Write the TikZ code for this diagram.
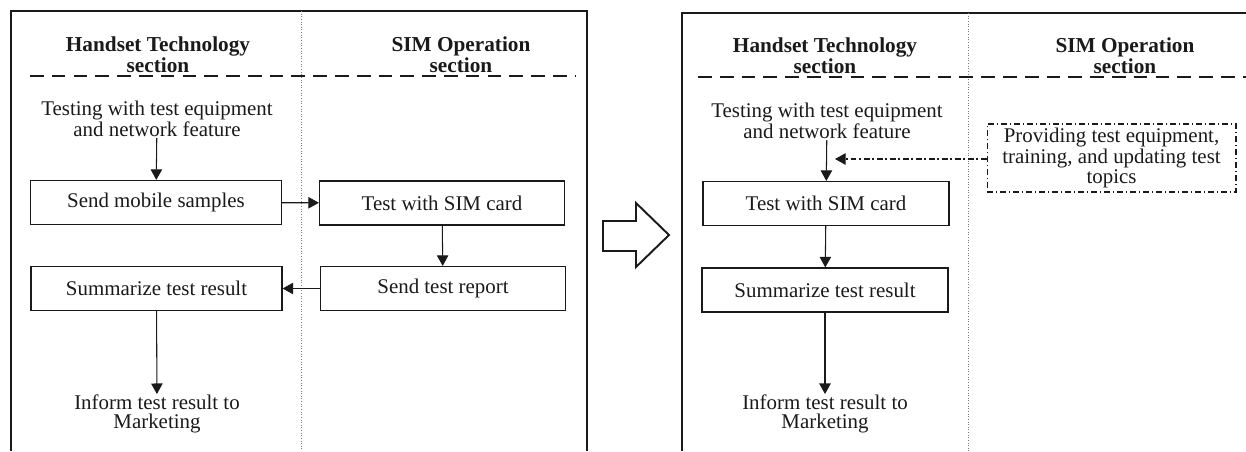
\documentclass[tikz,border=0pt]{standalone}
\usepackage{fontspec}
\setmainfont{Liberation Serif}
\usetikzlibrary{arrows.meta}
\definecolor{Ink}{HTML}{1A1A1A}
\definecolor{Rule}{HTML}{7A7A7A}

\begin{document}
\begin{tikzpicture}[x=0.02cm,y=-0.02cm,font=\fontsize{11.9}{10.4}\selectfont,every node/.style={text=Ink},
  frame/.style={draw=Ink,line width=1.3pt},
  divider/.style={draw=Rule,densely dotted,line width=0.5pt},
  sepline/.style={draw=Ink,line width=1.6pt,dash pattern=on 7.8pt off 4.6pt},
  procbox/.style={draw=Ink,line width=0.7pt,minimum width=5.02cm,minimum height=0.88cm,inner sep=1pt},
  simbox/.style={procbox,minimum width=4.9cm},
  supportbox/.style={draw=Ink,line width=0.6pt,dash pattern=on 3.4pt off 1.6pt on 0.8pt off 1.6pt,minimum width=4.98cm,minimum height=1.36cm,align=center,inner sep=1pt},
  header/.style={font=\fontsize{12.1}{10}\selectfont\bfseries,align=center},
  plain/.style={align=center,inner sep=0.5pt},
  flow/.style={draw=Ink,line width=0.6pt,-{Triangle[length=6pt,width=6.5pt]}},
  hint/.style={flow,dash pattern=on 3.4pt off 1.6pt on 0.8pt off 1.6pt}]
\useasboundingbox (0,0) rectangle (1246,451);
\fill[white] (0,0) rectangle (1246,451);
% current way of working
\draw[frame] (11,451) |- (587,11) -- (587,451);
\draw[divider] (301,11) -- (301,451);
\node[header] (hdhand) at (158,55) {Handset Technology\\section};
\node[header] (hdsim) at (461,55) {SIM Operation\\section};
\draw[sepline] (30,76) -- (576,76);
\node[plain] (testing) at (157,119) {Testing with test equipment\\and network feature};
\node[procbox] (sendmob) at (156,202.5) {Send mobile samples};
\node[simbox] (simtest) at (442,203) {Test with SIM card};
\node[simbox] (report) at (443,288.5) {Send test report};
\node[procbox] (summ) at (156.5,288.5) {Summarize test result};
\node[plain] (inform) at (157,414) {Inform test result to\\Marketing};
\draw[flow] (testing) -- (sendmob);
\draw[flow] (sendmob) -- (simtest);
\draw[flow] (simtest) -- (report);
\draw[flow] (report) -- (summ);
\draw[flow] (summ) -- (inform);
% block arrow
\draw[draw=Ink,line width=1.1pt,line join=miter] (603,221) -- (636,221) -- (636,203) -- (669,235) -- (636,267) -- (636,251) -- (603,251) -- cycle;
% proposed way of working
\draw[frame] (682,451) |- (1246,13);
\draw[divider] (968,13) -- (968,451);
\node[header] (hdhandb) at (825,56) {Handset Technology\\section};
\node[header] (hdsimb) at (1125,56) {SIM Operation\\section};
\draw[sepline] (698,77) -- (1246,77);
\node[plain] (testingb) at (827,121) {Testing with test equipment\\and network feature};
\node[supportbox] (support) at (1111.5,158) {Providing test equipment,\\training, and updating test\\topics};
\coordinate (supportin) at (835,159);
\node[procbox,minimum width=4.92cm] (simtestb) at (826,203.5) {Test with SIM card};
\node[procbox,minimum width=4.92cm] (summb) at (825,290) {Summarize test result};
\node[plain] (informb) at (825,414) {Inform test result to\\Marketing};
\draw[flow] (testingb) -- (simtestb);
\draw[hint] (support.west |- supportin) -- (supportin);
\draw[flow] (simtestb) -- (summb);
\draw[flow] (summb) -- (informb);
\end{tikzpicture}
\end{document}
